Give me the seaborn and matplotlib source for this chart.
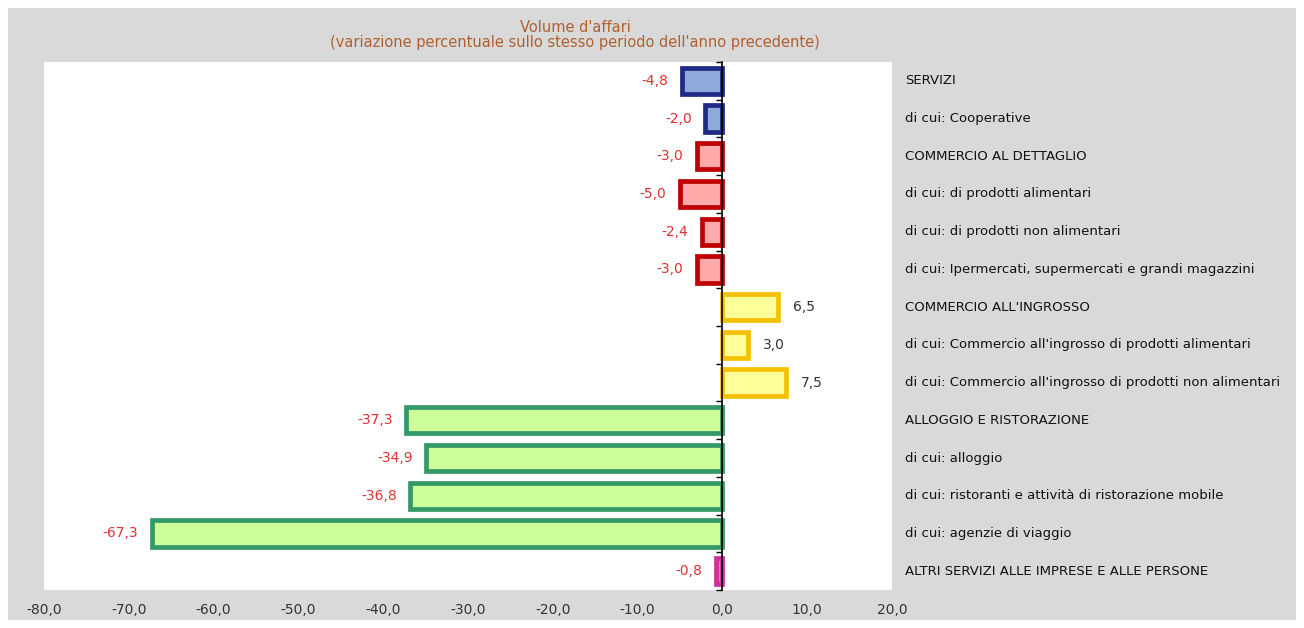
import pandas as pd
import matplotlib.pyplot as plt
from matplotlib.patches import Rectangle
import seaborn as sns
import numpy as np

settori = [
    "SERVIZI",
    "di cui: Cooperative",
    "COMMERCIO AL DETTAGLIO",
    "di cui: di prodotti alimentari",
    "di cui: di prodotti non alimentari",
    "di cui: Ipermercati, supermercati e grandi magazzini",
    "COMMERCIO ALL'INGROSSO",
    "di cui: Commercio all'ingrosso di prodotti alimentari",
    "di cui: Commercio all'ingrosso di prodotti non alimentari",
    "ALLOGGIO E RISTORAZIONE",
    "di cui: alloggio",
    "di cui: ristoranti e attività di ristorazione mobile",
    "di cui: agenzie di viaggio",
    "ALTRI SERVIZI ALLE IMPRESE E ALLE PERSONE",
]
valori = [-4.8, -2.0, -3.0, -5.0, -2.4, -3.0, 6.5, 3.0, 7.5, -37.3, -34.9, -36.8, -67.3, -0.8]
gruppi = ["servizi"] * 2 + ["dettaglio"] * 4 + ["ingrosso"] * 3 + ["alloggio"] * 4 + ["altri"]
x_ticks = [-80, -70, -60, -50, -40, -30, -20, -10, 0, 10, 20]

riempimento = {"servizi": "#8eaadb", "dettaglio": "#ffaaaa", "ingrosso": "#ffff99",
               "alloggio": "#ccff99", "altri": "#ff66cc"}
bordo = {"servizi": "#1f2a85", "dettaglio": "#c00000", "ingrosso": "#f5c000",
         "alloggio": "#339966", "altri": "#cc3399"}

df = pd.DataFrame({"settore": settori, "valore": valori, "gruppo": gruppi})

sns.set_theme(style="white")
plt.rcParams["font.family"] = ["DejaVu Sans"]

fig = plt.figure(figsize=(13.04, 6.28), dpi=100)
fig.patch.set_facecolor("white")
fig.patches.append(Rectangle((8 / 1304, 8 / 628), 1288 / 1304, 612 / 628,
                             transform=fig.transFigure, facecolor="#d9d9d9",
                             edgecolor="none", zorder=-1))
ax = fig.add_axes([44 / 1304, 1 - 590 / 628, 848 / 1304, 528 / 628])
ax.set_facecolor("white")

sns.barplot(data=df, x="valore", y="settore", hue="settore",
            palette=[riempimento[g] for g in gruppi], legend=False, saturation=1,
            width=0.7, linewidth=3.4, ax=ax)
for cont, g in zip(ax.containers, gruppi):
    for bar in cont:
        bar.set_edgecolor(bordo[g])

for i, v in enumerate(valori):
    testo = f"{v:.1f}".replace(".", ",")
    if v < 0:
        ax.text(v - 1.6, i, testo, ha="right", va="center", fontsize=10, color="#e03030")
    else:
        ax.text(v + 1.8, i, testo, ha="left", va="center", fontsize=10, color="#333333")
    ax.text(1.015, i, settori[i], transform=ax.get_yaxis_transform(),
            ha="left", va="center", fontsize=9.5, color="#111111")

ax.set_xlim(-80, 20)
ax.set_ylim(len(settori) - 0.5, -0.5)
ax.set_xticks(x_ticks)
ax.set_xticklabels([f"{t:.1f}".replace(".", ",") for t in x_ticks], fontsize=10, color="#333333")
ax.tick_params(axis="x", length=0, pad=9)

ax.spines["left"].set_position(("data", 0))
ax.spines["left"].set_color("black")
ax.spines["left"].set_linewidth(1.2)
for s in ["top", "right", "bottom"]:
    ax.spines[s].set_visible(False)
ax.set_yticks(np.arange(-0.5, len(settori), 1.0))
ax.set_yticklabels([])
ax.tick_params(axis="y", direction="out", length=4, width=1, color="black", left=True)
ax.set_xlabel("")
ax.set_ylabel("")

fig.text(575 / 1304, 1 - 27 / 628, "Volume d'affari", ha="center", va="center",
         fontsize=10.5, color="#b0602f")
fig.text(575 / 1304, 1 - 43 / 628, "(variazione percentuale sullo stesso periodo dell'anno precedente)",
         ha="center", va="center", fontsize=10.5, color="#b0602f")

fig.savefig("out.png", dpi=100)
